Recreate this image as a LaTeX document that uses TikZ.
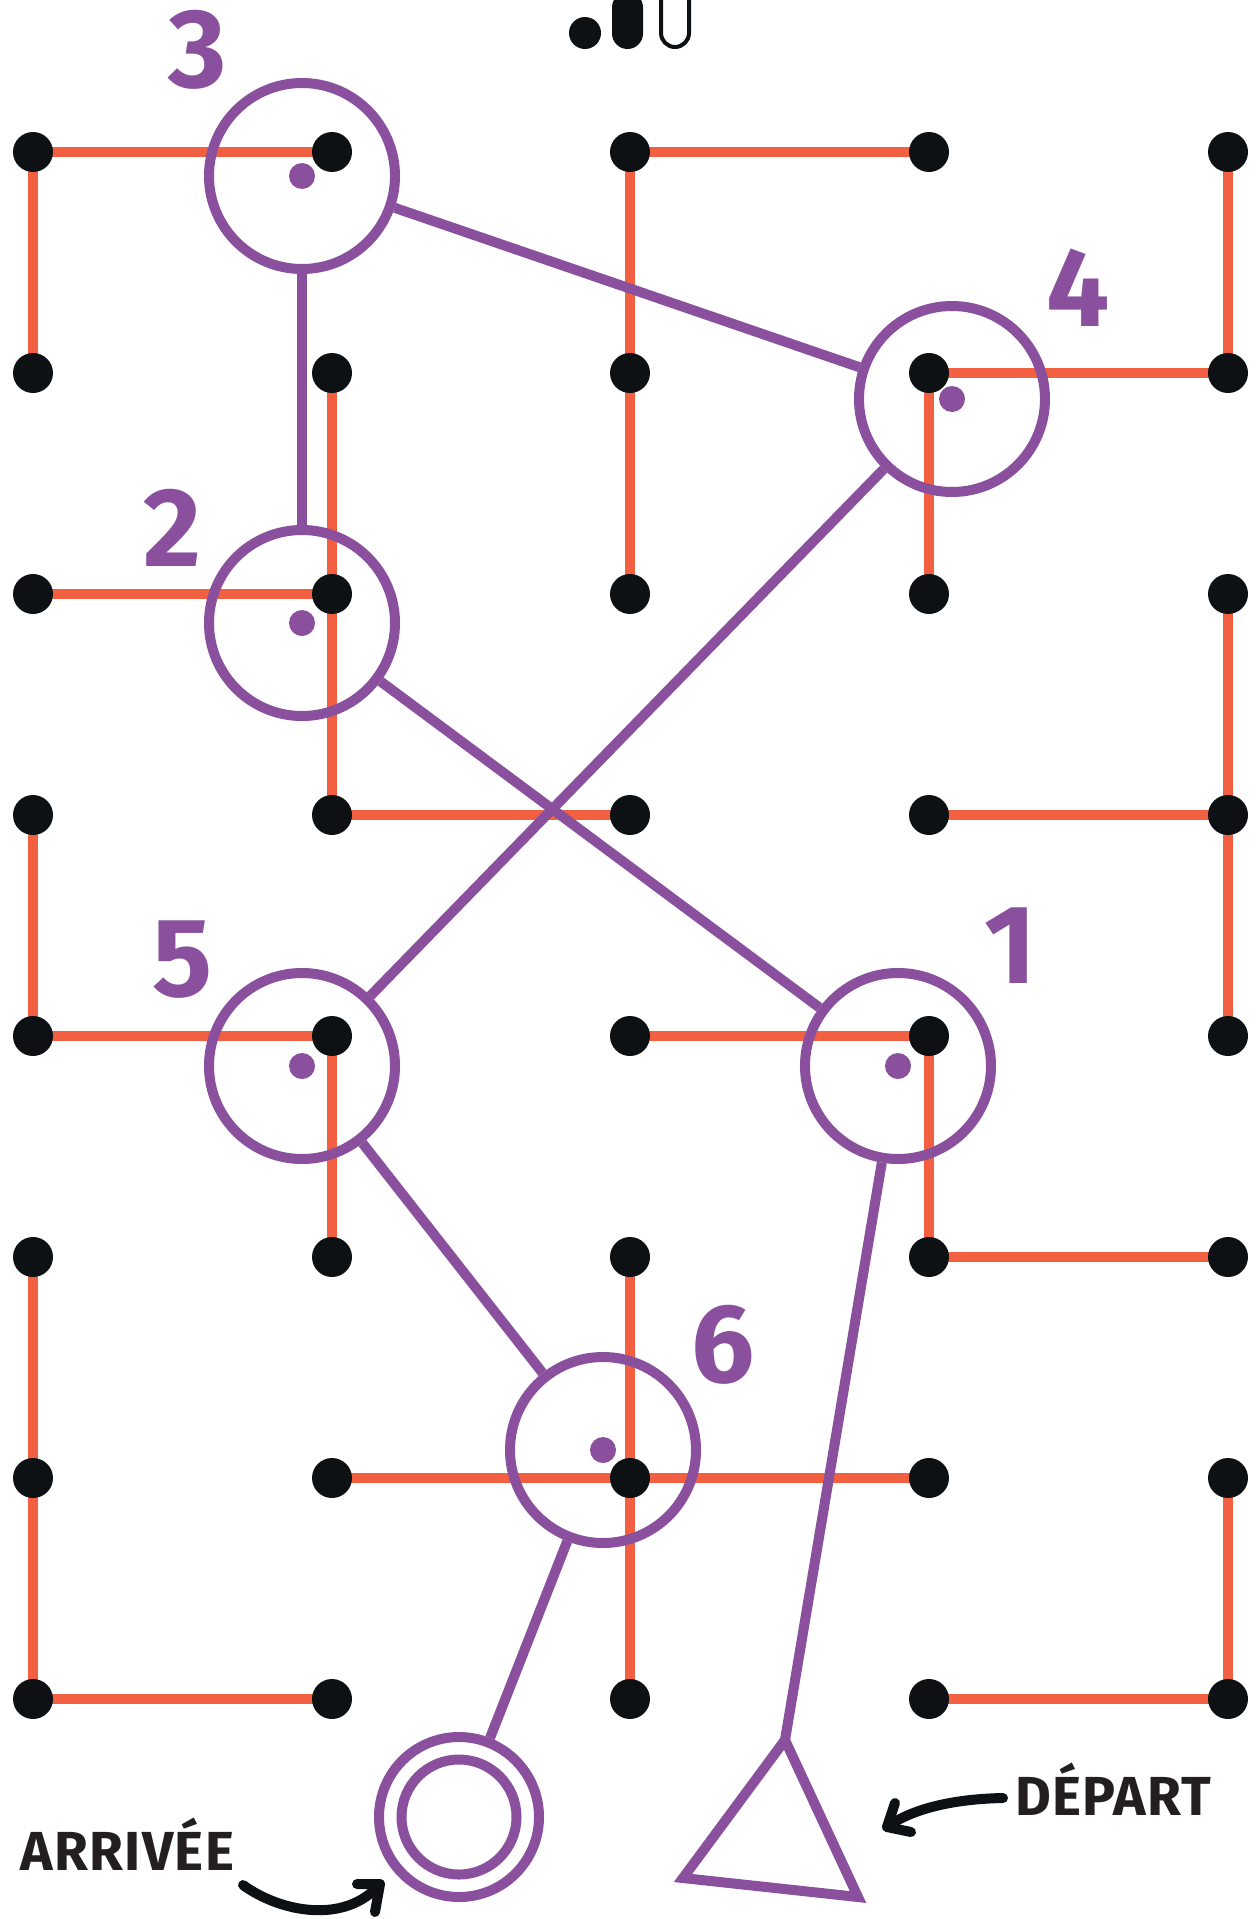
\documentclass[tikz,border=0pt]{standalone}
\usepackage{fontspec}
\setmainfont{Fira Sans}
\definecolor{orng}{HTML}{F26041}
\definecolor{purp}{HTML}{8A509E}
\definecolor{blk}{HTML}{0D1114}
\definecolor{txt}{HTML}{231F20}
\begin{document}
\begin{tikzpicture}[x=1pt,y=-1pt,
  link/.style={draw=orng,line width=10pt},
  gdot/.style={circle,fill=blk,minimum size=40pt,inner sep=0pt,outer sep=0pt},
  station/.style={circle,draw=purp,line width=10pt,minimum size=186pt,inner sep=0pt},
  cdot/.style={circle,fill=purp,minimum size=26pt,inner sep=0pt},
  route/.style={draw=purp,line width=10pt},
  num/.style={text=purp,font=\fontsize{112}{112}\selectfont\bfseries,inner sep=0pt},
  lbl/.style={text=txt,font=\fontsize{55}{55}\selectfont\bfseries\addfontfeature{LetterSpace=2.5},inner sep=0pt},
  pointer/.style={draw=blk,line width=10pt,line cap=round,line join=round}]

\fill[white] (0,0) rectangle (1257,1919);
\useasboundingbox (0,0) rectangle (1257,1919);

% grid coordinates
\foreach \c/\x in {0/33,1/332,2/630,3/929,4/1228}{
  \foreach \r in {0,...,7}{
    \coordinate (g\c\r) at (\x,{152+221*\r});
  }
}

% orange links
\foreach \a/\b in {00/10,00/01,20/30,20/22,40/41,
                   11/13,31/41,31/32,
                   02/12,42/44,
                   13/23,33/43,03/04,
                   04/14,14/15,24/34,34/35,
                   35/45,05/07,25/27,
                   16/36,46/47,
                   07/17,37/47}{
  \draw[link] (g\a) -- (g\b);
}

% black dots
\foreach \c in {0,...,4}{
  \foreach \r in {0,...,7}{
    \node[gdot] (d\c\r) at (g\c\r) {};
  }
}

% top icon
\node[circle,fill=blk,minimum size=32pt,inner sep=0pt] (icondot) at (585,33) {};
\fill[blk,rounded corners=15.5pt] (612,-8) rectangle (643,49);
\draw[blk,line width=4pt,rounded corners=14pt] (661,-5) -- (661,47) -- (689,47) -- (689,-5);

% stations
\node[station] (s3) at (302,176) {};
\node[station] (s4) at (952,399) {};
\node[station] (s2) at (302,623) {};
\node[station] (s5) at (302,1066) {};
\node[station] (s1) at (898,1066) {};
\node[station] (s6) at (603,1450) {};
\foreach \s in {1,...,6}{
  \node[cdot] (c\s) at (s\s.center) {};
}

% arrival
\node[station,minimum size=160pt] (arr) at (459,1817) {};
\node[station,minimum size=115pt] (arrin) at (arr.center) {};

% departure triangle
\coordinate (tA) at (785,1740);
\coordinate (tB) at (683,1878);
\coordinate (tC) at (858,1897);
\draw[route,line join=miter] (tA) -- (tB) -- (tC) -- cycle;

% routes
\draw[route] (s3) -- (s4);
\draw[route] (s3) -- (s2);
\draw[route] (s4) -- (s5);
\draw[route] (s2) -- (s1);
\draw[route] (s5) -- (s6);
\draw[route] (s1) -- (tA);
\draw[route] (s6) -- (arr);

% numbers
\node[num] (n3) at (198,50) {3};
\node[num] (n4) at (1078,288) {4};
\node[num] (n2) at (172,528) {2};
\node[num] (n5) at (183,960) {5};
\node[num] (n1) at (1010,946) {1};
\node[num] (n6) at (723,1345) {6};

% labels
\node[lbl,anchor=base west] (arrive) at (20,1870) {ARRIVÉE};
\node[lbl,anchor=base west] (depart) at (1015,1815) {DÉPART};

% pointers
\coordinate (p1s) at (243,1885);
\coordinate (p1e) at (380,1884);
\coordinate (p1a) at (357,1884);
\coordinate (p1b) at (375,1912);
\draw[pointer] (p1s) .. controls (280,1912) and (345,1925) .. (p1e);
\draw[pointer] (p1a) -- (p1e) -- (p1b);

\coordinate (p2s) at (1003,1798);
\coordinate (p2e) at (887,1827);
\coordinate (p2a) at (895,1803);
\coordinate (p2b) at (911,1832);
\draw[pointer] (p2s) .. controls (950,1799) and (910,1810) .. (p2e);
\draw[pointer] (p2a) -- (p2e) -- (p2b);
\end{tikzpicture}
\end{document}
